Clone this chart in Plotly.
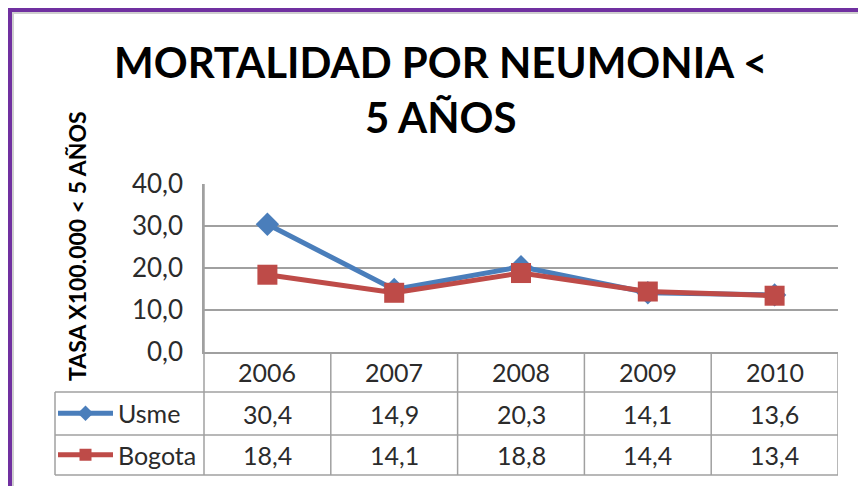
import plotly.graph_objects as go

# data
years = ["2006", "2007", "2008", "2009", "2010"]
usme = [30.4, 14.9, 20.3, 14.1, 13.6]
bogota = [18.4, 14.1, 18.8, 14.4, 13.4]

# the page body adds an 8px margin, so the figure is 8px smaller
OFF = 8
W, H = 866 - OFF, 486 - OFF
BLUE = "#4A7EBB"
RED = "#BE4B48"
GRID = "#A0A0A0"
TXT = "#2b2b2b"
FONT = "Lato"


def px(x):
    # screen x -> paper
    return (x - OFF) / W


def py(y):
    # screen y -> paper
    return (H - (y - OFF)) / H


# plot area / table rows (screen pixels)
PL, PR, PT, PB = 204, 838, 184, 352
ROW1, ROW2, TB = 392, 435, 475
LEFT = 55

fig = go.Figure()

fig.add_trace(go.Scatter(
    x=years, y=usme, name="Usme", mode="lines+markers",
    line=dict(color=BLUE, width=5),
    marker=dict(symbol="diamond", size=18, color=BLUE),
    cliponaxis=False, legend="legend",
))
fig.add_trace(go.Scatter(
    x=years, y=bogota, name="Bogota", mode="lines+markers",
    line=dict(color=RED, width=5),
    marker=dict(symbol="square", size=20, color=RED),
    cliponaxis=False, legend="legend2",
))

shapes = []
line = dict(color=GRID, width=1.5)
# horizontal table lines
for y, x0 in [(ROW1, LEFT), (ROW2, LEFT), (TB, LEFT)]:
    shapes.append(dict(type="line", xref="paper", yref="paper",
                       x0=px(x0), x1=px(PR), y0=py(y), y1=py(y), line=line))
# left edge of legend column
shapes.append(dict(type="line", xref="paper", yref="paper",
                   x0=px(LEFT), x1=px(LEFT), y0=py(ROW1), y1=py(TB), line=line))
# left axis extends down through table
shapes.append(dict(type="line", xref="paper", yref="paper",
                   x0=px(PL), x1=px(PL), y0=py(PT), y1=py(TB), line=line))
# column separators
for i in range(len(years)):
    shapes.append(dict(type="line", xref="x", yref="paper",
                       x0=i + 0.5, x1=i + 0.5, y0=py(PB), y1=py(TB), line=line))

# purple frame (top and left)
shapes.append(dict(type="line", xref="paper", yref="paper",
                   x0=0, x1=1, y0=py(10), y1=py(10),
                   line=dict(color="#7030A0", width=4)))
shapes.append(dict(type="line", xref="paper", yref="paper",
                   x0=px(10), x1=px(10), y0=1, y1=0,
                   line=dict(color="#7030A0", width=4)))
shapes.append(dict(type="line", xref="paper", yref="paper",
                   x0=px(12), x1=1, y0=py(13), y1=py(13),
                   line=dict(color="#CFCFCF", width=2)))
shapes.append(dict(type="line", xref="paper", yref="paper",
                   x0=px(13), x1=px(13), y0=py(12), y1=0,
                   line=dict(color="#CFCFCF", width=2)))

ann = []
tfont = dict(family=FONT, size=25, color=TXT)
for i, yr in enumerate(years):
    ann.append(dict(x=i, y=py((PB + ROW1) / 2), xref="x", yref="paper",
                    text=yr, showarrow=False, font=tfont, yanchor="middle"))
    ann.append(dict(x=i, y=py((ROW1 + ROW2) / 2), xref="x", yref="paper",
                    text=f"{usme[i]:.1f}".replace(".", ","), showarrow=False,
                    font=tfont, yanchor="middle"))
    ann.append(dict(x=i, y=py((ROW2 + TB) / 2), xref="x", yref="paper",
                    text=f"{bogota[i]:.1f}".replace(".", ","), showarrow=False,
                    font=tfont, yanchor="middle"))

ann.append(dict(x=px(440), y=py(90), xref="paper", yref="paper",
                text="MORTALIDAD POR NEUMONIA <<br>5 AÑOS", showarrow=False,
                font=dict(family=FONT, size=42, color="black", weight="bold"),
                align="center", yanchor="middle"))
ann.append(dict(x=px(61), y=py(246), xref="paper", yref="paper",
                text="TASA X100.000 < 5 AÑOS", textangle=-90, showarrow=False,
                font=dict(family=FONT, size=23, color="black", weight="bold"),
                yanchor="middle"))

leg = dict(font=dict(family=FONT, size=25, color=TXT), bgcolor="rgba(0,0,0,0)",
           itemsizing="constant", itemwidth=55, xanchor="left", yanchor="middle",
           x=px(53), borderwidth=0, visible=True)

fig.update_layout(
    width=W, height=H,
    margin=dict(l=0, r=0, t=0, b=0, autoexpand=False),
    paper_bgcolor="white", plot_bgcolor="white",
    separators=",.",
    showlegend=True,
    shapes=shapes, annotations=ann,
    legend=dict(leg, y=py((ROW1 + ROW2) / 2)),
    legend2=dict(leg, y=py((ROW2 + TB) / 2)),
    xaxis=dict(type="category", domain=[px(PL), px(PR)], showticklabels=False,
               showgrid=False, showline=True, linecolor=GRID, linewidth=1.5,
               ticks="", range=[-0.5, 4.5], fixedrange=True),
    yaxis=dict(domain=[py(PB), py(PT)], range=[0, 40], dtick=10,
               tickformat=".1f", showgrid=True, gridcolor=GRID, gridwidth=1.5,
               showline=True, linecolor=GRID, linewidth=1.5, zeroline=False,
               ticks="", ticklabelstandoff=14,
               tickfont=dict(family=FONT, size=26, color=TXT)),
)

fig.write_html("out.html")
